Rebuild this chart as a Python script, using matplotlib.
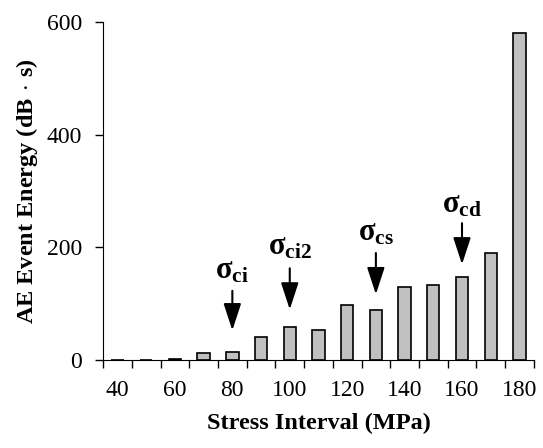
import numpy as np
import matplotlib
matplotlib.use('Agg')
import matplotlib.pyplot as plt

# data
stress = [40, 50, 60, 70, 80, 90, 100, 110, 120, 130, 140, 150, 160, 170, 180]
energy = [0, 1, 2, 12, 14, 41, 59, 53, 98, 89, 130, 133, 148, 190, 580]

# threshold markers: (label, stress interval, arrow tail, arrow head, label y)
markers = [
    (r'$\mathbf{\sigma_{ci}}$', 80, 128, 48, 158),
    (r'$\mathbf{\sigma_{ci2}}$', 100, 168, 85, 200),
    (r'$\mathbf{\sigma_{cs}}$', 130, 195, 112, 226),
    (r'$\mathbf{\sigma_{cd}}$', 160, 248, 165, 276),
]

plt.rcParams['font.family'] = 'Liberation Serif'
plt.rcParams['mathtext.fontset'] = 'custom'
plt.rcParams['mathtext.rm'] = 'Liberation Serif'
plt.rcParams['mathtext.it'] = 'Liberation Serif:bold'
plt.rcParams['mathtext.bf'] = 'Liberation Serif:bold'

fig = plt.figure(figsize=(5.43, 4.48), dpi=100)
ax = fig.add_axes([0.19, 0.196, 0.793, 0.755])

x = np.arange(len(stress))
ax.bar(x, energy, width=0.43, color='#c0c0c0', edgecolor='black', linewidth=1.2)

ax.set_xlim(-0.5, len(stress) - 0.5)
ax.set_ylim(0, 600)
ax.set_yticks([0, 200, 400, 600])

# ticks at category boundaries, labels on every other category centre
ax.set_xticks(np.arange(len(stress) + 1) - 0.5)
ax.set_xticklabels([])
ax.set_xticks(x[::2], minor=True)
ax.set_xticklabels([str(s) for s in stress[::2]], minor=True)
ax.tick_params(axis='x', which='major', direction='out', length=6, width=1)
ax.tick_params(axis='x', which='minor', length=0, pad=14, labelsize=17)
ax.tick_params(axis='y', direction='out', length=6, width=1, labelsize=17, pad=9)

ax.spines['top'].set_visible(False)
ax.spines['right'].set_visible(False)

ax.set_xlabel('Stress Interval (MPa)', fontsize=17.5, fontweight='bold', labelpad=9)
ax.set_ylabel(r'AE Event Energy (dB$\,\cdot\,$s)', fontsize=17.5, fontweight='bold', labelpad=5)

for lab, s, tail, head, ly in markers:
    i = stress.index(s)
    ax.annotate('', xy=(i, head), xytext=(i, tail),
                arrowprops=dict(arrowstyle='-|>,head_length=0.55,head_width=0.18',
                                color='black', lw=1.5, mutation_scale=30))
    ax.text(i, ly, lab, ha='center', va='center', fontsize=22)

fig.savefig('out.png', dpi=100)
